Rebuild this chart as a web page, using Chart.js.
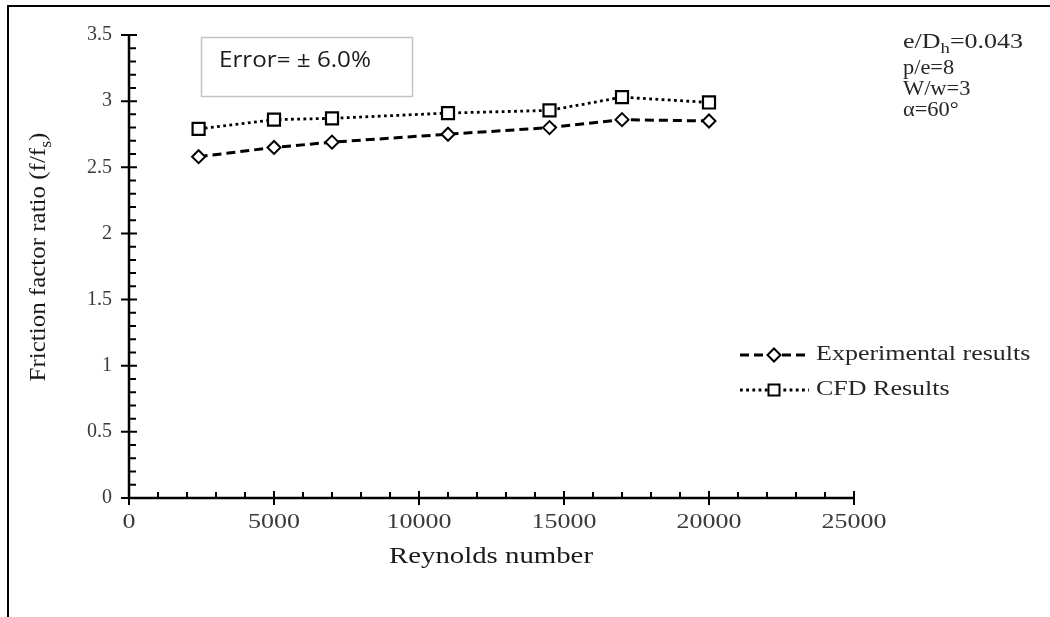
<!DOCTYPE html>
<html>
<head>
<meta charset="utf-8">
<script src="https://cdn.jsdelivr.net/npm/chart.js@4"></script>
<style>
  body { margin: 0; background: #fff; }
  canvas { display: block; }
</style>
</head>
<body>
<canvas id="frictionChart" width="1050" height="617"></canvas>
<script>
// data
const reynolds = [2400, 5000, 7000, 11000, 14500, 17000, 20000];
const experimental = [2.58, 2.65, 2.69, 2.75, 2.80, 2.86, 2.85];
const cfd = [2.79, 2.86, 2.87, 2.91, 2.93, 3.03, 2.99];
const xTicks = [0, 5000, 10000, 15000, 20000, 25000];
const yTicks = [0, 0.5, 1, 1.5, 2, 2.5, 3, 3.5];
const seriesNames = ["Experimental results", "CFD Results"];
const paramLines = ["e/D_h=0.043", "p/e=8", "W/w=3", "α=60°"];
const errorNote = "Error= ± 6.0%";
const xTitle = "Reynolds number";
const yTitle = "Friction factor ratio (f/f_s)";

const SERIF = '"Liberation Serif", "Times New Roman", serif';
const SANS = '"Open Sans", "Liberation Sans", sans-serif';

// "f/f_s" -> parts with subscript
function parseParts(str) {
    const parts = [];
    let buf = "";
    for (let i = 0; i < str.length; i++) {
        if (str[i] === "_" && i + 1 < str.length) {
            if (buf) parts.push({ t: buf });
            parts.push({ t: str[i + 1], sub: true });
            buf = "";
            i++;
        } else {
            buf += str[i];
        }
    }
    if (buf) parts.push({ t: buf });
    return parts;
}

// the source figure is stretched sideways, so text gets a horizontal scale sx
function drawText(ctx, str, x, y, size, family, align, sx, color) {
    const parts = parseParts(str);
    ctx.save();
    ctx.fillStyle = color;
    ctx.textBaseline = "middle";
    ctx.textAlign = "left";
    let total = 0;
    parts.forEach(p => {
        ctx.font = (p.sub ? size * 0.72 : size) + "px " + family;
        p.w = ctx.measureText(p.t).width;
        total += p.w;
    });
    ctx.translate(x, y);
    ctx.scale(sx, 1);
    let cx = align === "center" ? -total / 2 : 0;
    parts.forEach(p => {
        ctx.font = (p.sub ? size * 0.72 : size) + "px " + family;
        ctx.fillText(p.t, cx, p.sub ? size * 0.3 : 0);
        cx += p.w;
    });
    ctx.restore();
}

function marker(ctx, style, x, y) {
    ctx.save();
    ctx.fillStyle = "#fff";
    ctx.strokeStyle = "#000";
    ctx.lineWidth = 2;
    ctx.setLineDash([]);
    ctx.beginPath();
    if (style === "rectRot") {
        ctx.moveTo(x, y - 6.5); ctx.lineTo(x + 6.5, y); ctx.lineTo(x, y + 6.5); ctx.lineTo(x - 6.5, y);
        ctx.closePath();
    } else {
        ctx.rect(x - 5.5, y - 5.5, 11, 11);
    }
    ctx.fill();
    ctx.stroke();
    ctx.restore();
}

const figurePlugin = {
    id: "figure",
    beforeDraw(chart) {
        const ctx = chart.ctx;
        ctx.save();
        ctx.strokeStyle = "#000";
        ctx.lineWidth = 2;
        ctx.beginPath();
        ctx.moveTo(1050, 6); ctx.lineTo(8, 6); ctx.lineTo(8, 617);
        ctx.stroke();
        ctx.restore();
    },
    afterDatasetsDraw(chart) {
        const ctx = chart.ctx;
        const xs = chart.scales.x, ys = chart.scales.y;
        const x0 = xs.getPixelForValue(0), y0 = ys.getPixelForValue(0);
        ctx.save();
        ctx.strokeStyle = "#000";
        ctx.lineWidth = 2.5;
        ctx.beginPath();
        ctx.moveTo(x0, ys.getPixelForValue(3.5));
        ctx.lineTo(x0, y0);
        ctx.lineTo(xs.getPixelForValue(25000), y0);
        ctx.stroke();
        ctx.lineWidth = 2;
        ctx.beginPath();
        // minor ticks inside
        for (let v = 1000; v < 25000; v += 1000) {
            if (v % 5000 === 0) continue;
            const px = xs.getPixelForValue(v);
            ctx.moveTo(px, y0); ctx.lineTo(px, y0 - 6);
        }
        for (let i = 1; i < 35; i++) {
            if (i % 5 === 0) continue;
            const py = ys.getPixelForValue(i / 10);
            ctx.moveTo(x0, py); ctx.lineTo(x0 + 7, py);
        }
        // major ticks cross the axis
        xTicks.forEach(v => {
            const px = xs.getPixelForValue(v);
            ctx.moveTo(px, y0 - 7); ctx.lineTo(px, y0 + 7);
        });
        yTicks.forEach(v => {
            const py = ys.getPixelForValue(v);
            ctx.moveTo(x0 - 8, py); ctx.lineTo(x0 + 8, py);
        });
        ctx.stroke();
        ctx.restore();

        // x tick labels, wider than the y ones in the source
        xTicks.forEach(v => {
            drawText(ctx, String(v), xs.getPixelForValue(v), y0 + 25, 20, SERIF, "center", 1.3, "#3a3a3a");
        });
    },
    afterDraw(chart) {
        const ctx = chart.ctx;
        // axis titles
        drawText(ctx, xTitle, 491, 557, 24, SERIF, "center", 1.2, "#1a1a1a");
        ctx.save();
        ctx.translate(39, 257);
        ctx.rotate(-Math.PI / 2);
        drawText(ctx, yTitle, 0, 0, 24, SERIF, "center", 1.04, "#1a1a1a");
        ctx.restore();

        // error box
        ctx.save();
        ctx.strokeStyle = "#c4c4c4";
        ctx.lineWidth = 1.5;
        ctx.strokeRect(201.5, 37.5, 211, 59);
        ctx.restore();
        drawText(ctx, errorNote, 219, 61, 22, SANS, "left", 1.1, "#1a1a1a");

        // parameters top right
        const paramY = [43, 69, 90, 111];
        paramLines.forEach((line, i) => {
            drawText(ctx, line, 903, paramY[i], 20, SERIF, "left", i === 0 ? 1.3 : 1.12, "#262626");
        });

        // legend
        const rows = [355, 390];
        chart.data.datasets.forEach((ds, i) => {
            const y = rows[i];
            ctx.save();
            ctx.strokeStyle = "#000";
            ctx.lineWidth = ds.borderWidth;
            ctx.setLineDash(ds.borderDash);
            ctx.beginPath();
            ctx.moveTo(740, y); ctx.lineTo(809, y);
            ctx.stroke();
            ctx.restore();
            marker(ctx, ds.pointStyle, 774, y);
            drawText(ctx, seriesNames[i], 816, y, 20, SERIF, "left", 1.3, "#262626");
        });
    }
};

new Chart(document.getElementById("frictionChart"), {
    type: "line",
    data: {
        datasets: [
            {
                label: seriesNames[0],
                data: reynolds.map((re, i) => ({ x: re, y: experimental[i] })),
                borderColor: "#000",
                borderWidth: 3,
                borderDash: [9, 5],
                pointStyle: "rectRot",
                pointRadius: 6.5,
                pointBorderWidth: 2,
                pointBackgroundColor: "#fff",
                pointBorderColor: "#000",
                tension: 0
            },
            {
                label: seriesNames[1],
                data: reynolds.map((re, i) => ({ x: re, y: cfd[i] })),
                borderColor: "#000",
                borderWidth: 2.8,
                borderDash: [2.8, 3.4],
                pointStyle: "rect",
                pointRadius: 8.5,
                pointBorderWidth: 2.2,
                pointBackgroundColor: "#fff",
                pointBorderColor: "#000",
                tension: 0
            }
        ]
    },
    options: {
        responsive: false,
        animation: false,
        devicePixelRatio: 1,
        layout: { padding: { top: 35, right: 196, left: 0, bottom: 0 } },
        plugins: {
            legend: { display: false },
            tooltip: { enabled: false }
        },
        scales: {
            x: {
                type: "linear",
                min: 0,
                max: 25000,
                afterFit(scale) { scale.height = 119; },
                afterBuildTicks(scale) { scale.ticks = xTicks.map(v => ({ value: v })); },
                grid: { display: false, drawTicks: false },
                border: { display: false },
                ticks: { display: false }
            },
            y: {
                type: "linear",
                min: 0,
                max: 3.5,
                afterFit(scale) { scale.width = 129; },
                afterBuildTicks(scale) { scale.ticks = yTicks.map(v => ({ value: v })); },
                grid: { display: false, drawTicks: false },
                border: { display: false },
                ticks: {
                    padding: 17,
                    font: { family: SERIF, size: 20 },
                    color: "#3a3a3a",
                    callback: v => String(v)
                }
            }
        }
    },
    plugins: [figurePlugin]
});
</script>
</body>
</html>
